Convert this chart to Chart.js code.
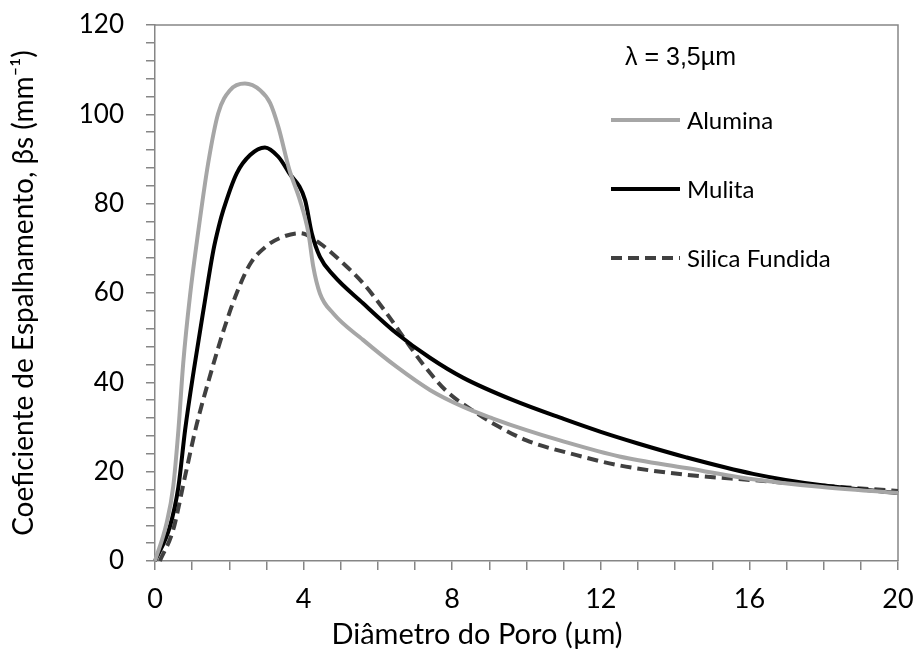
<!DOCTYPE html>
<html lang="pt">
<head>
<meta charset="utf-8">
<title>Coeficiente de Espalhamento</title>
<script src="https://cdn.jsdelivr.net/npm/chart.js@4.4.1/dist/chart.umd.min.js"></script>
<style>
  html, body { margin: 0; padding: 0; background: #fff; }
  #grafico { display: block; }
</style>
</head>
<body>
<canvas id="grafico" width="920" height="656"></canvas>
<script>
// Diâmetro do poro (µm) e coeficiente de espalhamento (mm-1) de cada material
const diametroAlumina = [0, 0.31, 0.49, 0.63, 0.76, 0.94, 1.17, 1.43, 1.7, 2.02, 2.42, 2.83, 3.1, 3.32, 3.62, 3.9, 4.13, 4.26, 4.44, 4.8, 5.6, 6.5, 7.4, 8.3, 9.1, 10.0, 10.9, 12.5, 14.3, 16.1, 17.9, 20];
const betaAlumina     = [0, 8.4, 16.6, 29.3, 44.3, 59.2, 74.1, 89, 100.2, 105.4, 106.9, 105.4, 102.5, 97.2, 87.5, 80.8, 73.4, 65.9, 59.9, 55.4, 49.5, 43.5, 38.3, 34.5, 31.9, 29.3, 27.0, 23.4, 20.8, 18.3, 16.6, 15.2];

const diametroMulita = [0, 0.4, 0.63, 0.81, 1.05, 1.32, 1.57, 1.72, 1.84, 2.2, 2.56, 2.96, 3.32, 3.6, 4.04, 4.22, 4.44, 4.8, 5.6, 6.5, 7.4, 8.3, 9.64, 11, 12, 13, 14.3, 16.1, 17.9, 20];
const betaMulita     = [0, 7.7, 16.6, 29.3, 43, 57, 69.5, 75, 78.6, 86.8, 90.9, 92.6, 90.5, 87, 80.8, 73.4, 68.1, 64, 57.7, 51, 45.5, 41, 36, 31.8, 28.9, 26.3, 23.2, 19.5, 17, 15.2];

const diametroSilica = [0.13, 0.49, 0.81, 1.12, 1.5, 1.88, 2.2, 2.56, 3.0, 3.36, 3.9, 4.44, 5.07, 5.6, 6.24, 6.78, 7.22, 7.85, 8.66, 9.1, 10, 11.35, 12.5, 14.3, 16.1, 17.9, 20];
const betaSilica     = [0, 7, 19, 30.5, 42, 52.5, 60, 66.5, 70.5, 72.3, 73.4, 71.1, 66.6, 62.2, 55.4, 49, 44, 38, 33.1, 30.8, 27, 23.7, 21.4, 19.3, 18.1, 16.9, 15.7];

const materiais = ["Alumina", "Mulita", "Silica Fundida"];
const rotuloLambda = "λ = 3,5µm";
const tituloX = "Diâmetro do Poro (µm)";
const tituloY = "Coeficiente de Espalhamento, βs (mm⁻¹)";

const corEixo = "#868686";
const fonteTexto = "Lato, 'Open Sans', sans-serif";

function pontos(xs, ys) {
  return xs.map((x, i) => ({ x: x, y: ys[i] }));
}

// legenda desenhada à mão, com o traço de cada série, e o título do eixo x
const legendaLinhas = {
  id: "legendaLinhas",
  afterDraw(chart) {
    const ctx = chart.ctx;
    ctx.save();
    ctx.fillStyle = "#000";
    ctx.textBaseline = "middle";
    ctx.font = "25px 'Liberation Sans', Arial, sans-serif";
    ctx.fillText(rotuloLambda, 625, 58);

    const linhasY = [120, 189, 258];
    chart.data.datasets.forEach((ds, i) => {
      const y = linhasY[i];
      ctx.beginPath();
      ctx.strokeStyle = ds.borderColor;
      ctx.lineWidth = ds.borderWidth;
      ctx.setLineDash(ds.borderDash || []);
      ctx.moveTo(611, y);
      ctx.lineTo(680, y);
      ctx.stroke();
      ctx.setLineDash([]);
      ctx.fillStyle = "#000";
      ctx.font = "24px " + fonteTexto;
      ctx.fillText(ds.label, 687, y + 1);
    });

    // título do eixo x, um pouco à esquerda do centro da área
    ctx.textAlign = "center";
    ctx.font = "29px " + fonteTexto;
    ctx.fillText(tituloX, 477, 635);
    ctx.restore();
  }
};

// moldura cinza em volta da área do gráfico
const moldura = {
  id: "moldura",
  beforeDatasetsDraw(chart) {
    const a = chart.chartArea;
    const ctx = chart.ctx;
    ctx.save();
    ctx.strokeStyle = corEixo;
    ctx.lineWidth = 1.5;
    ctx.beginPath();
    ctx.moveTo(a.left, a.top);
    ctx.lineTo(a.right, a.top);
    ctx.lineTo(a.right, a.bottom);
    ctx.stroke();
    ctx.restore();
  }
};

function serie(label, xs, ys, cor, tracejado) {
  return {
    label: label,
    data: pontos(xs, ys),
    borderColor: cor,
    borderWidth: 4,
    borderDash: tracejado ? [11, 6] : [],
    pointRadius: 0,
    fill: false,
    cubicInterpolationMode: "monotone",
    clip: false
  };
}

// sem folga extra para os rótulos: a área do gráfico fica onde o padding manda
function semFolga(scale) {
  scale.paddingTop = 0;
  scale.paddingBottom = 0;
  scale.paddingLeft = 0;
  scale.paddingRight = 0;
}

const ctx = document.getElementById("grafico").getContext("2d");

new Chart(ctx, {
  type: "line",
  data: {
    datasets: [
      serie(materiais[0], diametroAlumina, betaAlumina, "#a6a6a6", false),
      serie(materiais[1], diametroMulita, betaMulita, "#000000", false),
      serie(materiais[2], diametroSilica, betaSilica, "#404040", true)
    ]
  },
  options: {
    responsive: false,
    animation: false,
    layout: { padding: { top: 25, right: 22, left: 0, bottom: 0 } },
    plugins: {
      legend: { display: false },
      tooltip: { enabled: false }
    },
    scales: {
      x: {
        type: "linear",
        min: 0,
        max: 20,
        afterBuildTicks(scale) {
          const t = [];
          for (let v = 0; v <= 20; v++) t.push({ value: v });
          scale.ticks = t;
        },
        afterFit(scale) {
          scale.height = 95;
          semFolga(scale);
        },
        grid: { drawOnChartArea: false, drawTicks: true, tickLength: 9, color: corEixo, lineWidth: 1.5 },
        border: { display: true, color: corEixo, width: 1.5 },
        ticks: {
          autoSkip: false,
          maxRotation: 0,
          padding: 13,
          color: "#000",
          font: { family: fonteTexto, size: 27 },
          callback: (v) => (v % 4 === 0 ? v : "")
        },
        title: { display: false }
      },
      y: {
        min: 0,
        max: 120,
        afterBuildTicks(scale) {
          const t = [];
          for (let v = 0; v <= 120; v += 4) t.push({ value: v });
          scale.ticks = t;
        },
        afterFit(scale) {
          scale.width = 155;
          semFolga(scale);
        },
        grid: { drawOnChartArea: false, drawTicks: true, tickLength: 9, color: corEixo, lineWidth: 1.5 },
        border: { display: true, color: corEixo, width: 1.5 },
        ticks: {
          autoSkip: false,
          padding: 22,
          color: "#000",
          font: { family: fonteTexto, size: 26 },
          callback: (v) => (v % 20 === 0 ? v : "")
        },
        title: {
          display: true,
          text: tituloY,
          color: "#000",
          font: { family: fonteTexto, size: 28 },
          padding: { top: 7, bottom: 0 }
        }
      }
    }
  },
  plugins: [moldura, legendaLinhas]
});
</script>
</body>
</html>
